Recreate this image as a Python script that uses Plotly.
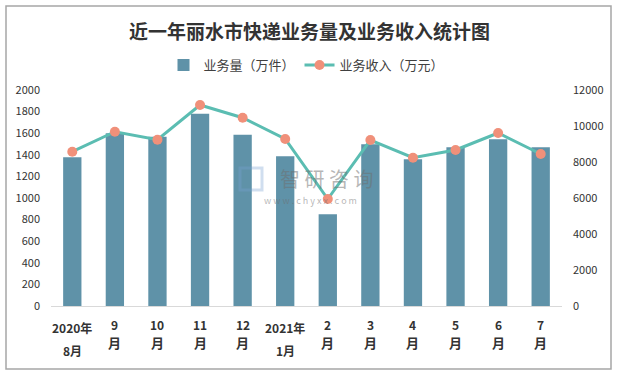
import plotly.graph_objects as go

categories = ["2020年8月", "9月", "10月", "11月", "12月", "2021年1月",
              "2月", "3月", "4月", "5月", "6月", "7月"]
label_top = ["2020年", "9", "10", "11", "12", "2021年", "2", "3", "4", "5", "6", "7"]
label_bottom = ["8月", "月", "月", "月", "月", "1月", "月", "月", "月", "月", "月", "月"]
volume = [1377, 1599, 1568, 1781, 1586, 1386, 849, 1497, 1358, 1469, 1544, 1469]
revenue = [8572, 9683, 9239, 11167, 10461, 9278, 5944, 9222, 8239, 8667, 9611, 8444]

left_ticks = [0, 200, 400, 600, 800, 1000, 1200, 1400, 1600, 1800, 2000]
right_ticks = [0, 2000, 4000, 6000, 8000, 10000, 12000]

BAR = "#5f92a8"
LINE = "#5bbdb2"
MARK = "#f0907a"
TXT = "#333333"
FONT = "Noto Sans CJK SC"

fig = go.Figure()
fig.add_trace(go.Bar(x=categories, y=volume, name="业务量（万件）",
                     marker=dict(color=BAR, line=dict(width=0)), width=0.43,
                     yaxis="y"))
fig.add_trace(go.Scatter(x=categories, y=revenue, name="业务收入（万元）",
                         mode="lines+markers",
                         line=dict(color=LINE, width=3),
                         marker=dict(color=MARK, size=10),
                         yaxis="y2"))

W, H = 619, 373
L, R, T, B = 51, 57, 90, 67
pw, ph = W - L - R, H - T - B

def px(xp):
    return (xp - L) / pw

def py(yp):
    return (H - B - yp) / ph

annotations = []
for c, a, b in zip(categories, label_top, label_bottom):
    long = len(a) > 2
    annotations.append(dict(x=c, xref="x", y=py(327.7 if long else 324.3), yref="paper",
                            text="<b>%s</b>" % a, showarrow=False,
                            font=dict(family=FONT, size=12, color=TXT),
                            xanchor="center", yanchor="middle"))
    annotations.append(dict(x=c, xref="x", y=py(350 if long else 342.7), yref="paper",
                            text="<b>%s</b>" % b, showarrow=False,
                            font=dict(family=FONT, size=13 if not long else 12, color=TXT),
                            xanchor="center", yanchor="middle"))

# watermark
annotations.append(dict(x=px(326), y=py(178), xref="paper", yref="paper",
                        text="智 研 咨 询", showarrow=False,
                        font=dict(family=FONT, size=20, color="rgba(110,110,110,0.5)"),
                        xanchor="center", yanchor="middle"))
annotations.append(dict(x=px(310), y=py(200), xref="paper", yref="paper",
                        text="w w w . c h y x x . c o m", showarrow=False,
                        font=dict(family=FONT, size=9, color="rgba(110,110,110,0.5)"),
                        xanchor="center", yanchor="middle"))

shapes = [
    dict(type="rect", xref="paper", yref="paper",
         x0=px(6), x1=px(611), y0=py(369), y1=py(6),
         line=dict(color="#a6a6a6", width=1.5), fillcolor="rgba(0,0,0,0)", layer="below"),
    dict(type="rect", xref="paper", yref="paper",
         x0=px(240), x1=px(262), y0=py(190), y1=py(168),
         line=dict(color="rgba(120,160,210,0.35)", width=3), fillcolor="rgba(0,0,0,0)"),
]

fig.update_layout(
    width=W, height=H,
    margin=dict(l=L, r=R, t=T, b=B, autoexpand=False),
    paper_bgcolor="white", plot_bgcolor="white",
    font=dict(family=FONT, color=TXT),
    title=dict(text="<b>近一年丽水市快递业务量及业务收入统计图</b>",
               x=0.5, xanchor="center", y=1 - 32 / H, yanchor="middle",
               font=dict(family=FONT, size=19, color=TXT)),
    legend=dict(orientation="h", x=0.5, xanchor="center", y=py(65), yanchor="middle",
                font=dict(family=FONT, size=13, color="#404040"),
                itemwidth=30, tracegroupgap=0, bgcolor="rgba(0,0,0,0)"),
    xaxis=dict(type="category", showticklabels=False, showline=True,
               linecolor="#d9d9d9", linewidth=1, ticks="", showgrid=False,
               range=[-0.5, len(categories) - 0.5]),
    yaxis=dict(range=[0, 2000], tickvals=left_ticks, showgrid=False, zeroline=False,
               showline=False, ticks="", ticklabelstandoff=10,
               tickfont=dict(family=FONT, size=11, color=TXT)),
    yaxis2=dict(range=[0, 12000], tickvals=right_ticks,
                ticktext=[str(v) for v in right_ticks],
                overlaying="y", side="right",
                showgrid=False, zeroline=False, showline=False, ticks="",
                ticklabelstandoff=10,
                tickfont=dict(family=FONT, size=11, color=TXT)),
    bargap=0.57,
    annotations=annotations,
    shapes=shapes,
    showlegend=True,
)

fig.write_html("out.html", config={"displayModeBar": False},
               post_script="document.body.style.margin='0';document.body.style.padding='0';"
                           "document.body.style.overflow='hidden';")
